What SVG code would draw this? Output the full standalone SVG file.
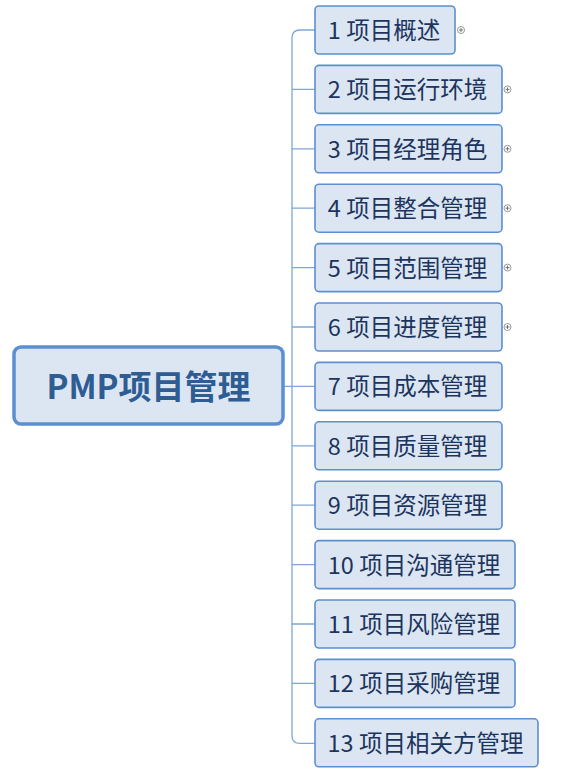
<svg xmlns="http://www.w3.org/2000/svg" width="572" height="779" viewBox="0 0 572 779">
<style>
.n rect{fill:#dce6f2;stroke:#5b8fd0;stroke-width:1.6}
.n text{font-family:"Noto Sans CJK SC","Noto Sans",sans-serif;font-size:23.5px;fill:#1c355e;text-anchor:middle}
.root rect{fill:#dce6f2;stroke:#5b8fd0;stroke-width:3.5}
.root text{font-family:"Noto Sans CJK SC","Noto Sans",sans-serif;font-size:33px;font-weight:bold;fill:#2e5d94;text-anchor:middle}
.c path{fill:none;stroke:#7ea6d8;stroke-width:1.3}
.e circle{fill:#fff;stroke:#8c8c8c;stroke-width:0.9}
.e path{stroke:#666;stroke-width:0.9}
</style>
<g class="c" id="connectors">
<path d="M283 386.4H292"/>
<path d="M315 30H300Q292 30 292 38V735.4Q292 743.4 300 743.4H315"/>
<path d="M292 89.4H315M292 148.8H315M292 208.2H315M292 267.6H315M292 327H315M292 386.4H315M292 445.8H315M292 505.2H315M292 564.6H315M292 624H315M292 683.4H315"/>
</g>
<g class="root" id="root"><rect x="14" y="347" width="269" height="77" rx="7"/><text x="148.5" y="398.5">PMP项目管理</text></g>
<g class="n" id="n1"><rect x="315" y="6" width="140" height="48" rx="4"/><text x="384" y="39">1 项目概述</text></g>
<g class="n" id="n2"><rect x="315" y="65.4" width="187" height="48" rx="4"/><text x="407.5" y="98.4">2 项目运行环境</text></g>
<g class="n" id="n3"><rect x="315" y="124.8" width="187" height="48" rx="4"/><text x="407.5" y="157.8">3 项目经理角色</text></g>
<g class="n" id="n4"><rect x="315" y="184.2" width="187" height="48" rx="4"/><text x="407.5" y="217.2">4 项目整合管理</text></g>
<g class="n" id="n5"><rect x="315" y="243.6" width="187" height="48" rx="4"/><text x="407.5" y="276.6">5 项目范围管理</text></g>
<g class="n" id="n6"><rect x="315" y="303" width="187" height="48" rx="4"/><text x="407.5" y="336">6 项目进度管理</text></g>
<g class="n" id="n7"><rect x="315" y="362.4" width="187" height="48" rx="4"/><text x="407.5" y="395.4">7 项目成本管理</text></g>
<g class="n" id="n8"><rect x="315" y="421.8" width="187" height="48" rx="4"/><text x="407.5" y="454.8">8 项目质量管理</text></g>
<g class="n" id="n9"><rect x="315" y="481.2" width="187" height="48" rx="4"/><text x="407.5" y="514.2">9 项目资源管理</text></g>
<g class="n" id="n10"><rect x="315" y="540.6" width="200" height="48" rx="4"/><text x="414" y="573.6">10 项目沟通管理</text></g>
<g class="n" id="n11"><rect x="315" y="600" width="200" height="48" rx="4"/><text x="414" y="633">11 项目风险管理</text></g>
<g class="n" id="n12"><rect x="315" y="659.4" width="200" height="48" rx="4"/><text x="414" y="692.4">12 项目采购管理</text></g>
<g class="n" id="n13"><rect x="315" y="718.8" width="223" height="48" rx="4"/><text x="425.5" y="751.8">13 项目相关方管理</text></g>
<g class="e" id="expanders">
<circle cx="461" cy="30" r="3.5"/><path d="M459 30H463M461 28V32"/>
<circle cx="507.5" cy="89.4" r="3.5"/><path d="M505.5 89.4H509.5M507.5 87.4V91.4"/>
<circle cx="507.5" cy="148.8" r="3.5"/><path d="M505.5 148.8H509.5M507.5 146.8V150.8"/>
<circle cx="507.5" cy="208.2" r="3.5"/><path d="M505.5 208.2H509.5M507.5 206.2V210.2"/>
<circle cx="507.5" cy="267.6" r="3.5"/><path d="M505.5 267.6H509.5M507.5 265.6V269.6"/>
<circle cx="507.5" cy="327" r="3.5"/><path d="M505.5 327H509.5M507.5 325V329"/>
</g>
</svg>
